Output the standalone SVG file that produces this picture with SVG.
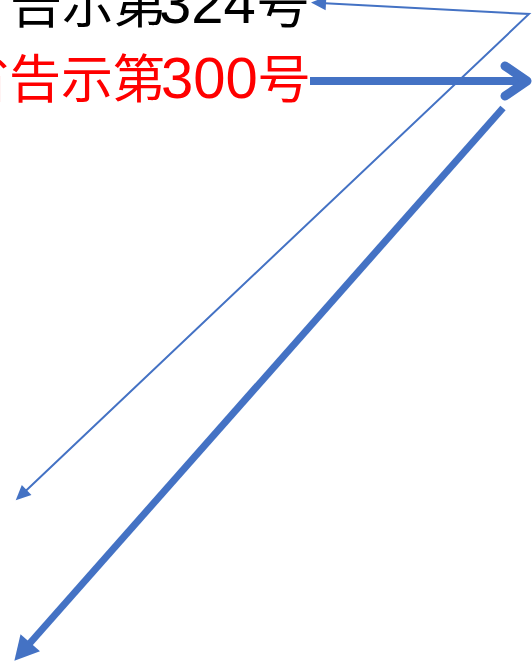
<svg xmlns="http://www.w3.org/2000/svg" width="532" height="663" viewBox="0 0 532 663">
<style>
.lbl{font-family:"Noto Sans CJK JP","Noto Sans CJK SC",sans-serif;font-size:52px}
.num{font-family:"Liberation Sans",Arial,sans-serif;font-size:58px}
.thin{fill:none;stroke:#4472C4;stroke-width:2}
.thick{fill:none;stroke:#4472C4;stroke-width:8}
</style>
<defs>
<marker id="ahThin" markerUnits="userSpaceOnUse" markerWidth="16" markerHeight="14" viewBox="0 0 16 14" refX="1" refY="7" orient="auto-start-reverse" overflow="visible">
<path d="M0,0 L15,7 L0,14 z" fill="#4472C4"/>
</marker>
<marker id="ahThick" markerUnits="userSpaceOnUse" markerWidth="25" markerHeight="26" viewBox="0 0 25 26" refX="1" refY="13" orient="auto" overflow="visible">
<path d="M0,0 L24,13 L0,26 z" fill="#4472C4"/>
</marker>
<marker id="ahOpen" markerUnits="userSpaceOnUse" markerWidth="30" markerHeight="36" viewBox="0 0 30 36" refX="24" refY="18" orient="auto" overflow="visible">
<path d="M2,3 L24,18 L2,33" fill="none" stroke="#4472C4" stroke-width="9" stroke-linecap="round" stroke-linejoin="round"/>
</marker>
</defs>
<g id="label-324">
<text class="lbl" x="10" y="23" fill="#000000">告示第<tspan class="num" x="159">324</tspan><tspan x="257">号</tspan></text>
</g>
<g id="label-300">
<text class="lbl" x="-43" y="98" fill="#FF0000">省告示第<tspan class="num" x="161">300</tspan><tspan x="258">号</tspan></text>
</g>
<g id="connectors">
<path class="thin" d="M325,3.3 L529,14 L25.9,490.7" marker-start="url(#ahThin)" marker-end="url(#ahThin)"/>
<path class="thick" d="M310,81 L527,81" marker-end="url(#ahOpen)"/>
<path d="M503,108 L29.6,643.5" fill="none" stroke="#4472C4" stroke-width="7" marker-end="url(#ahThick)"/>
</g>
</svg>
